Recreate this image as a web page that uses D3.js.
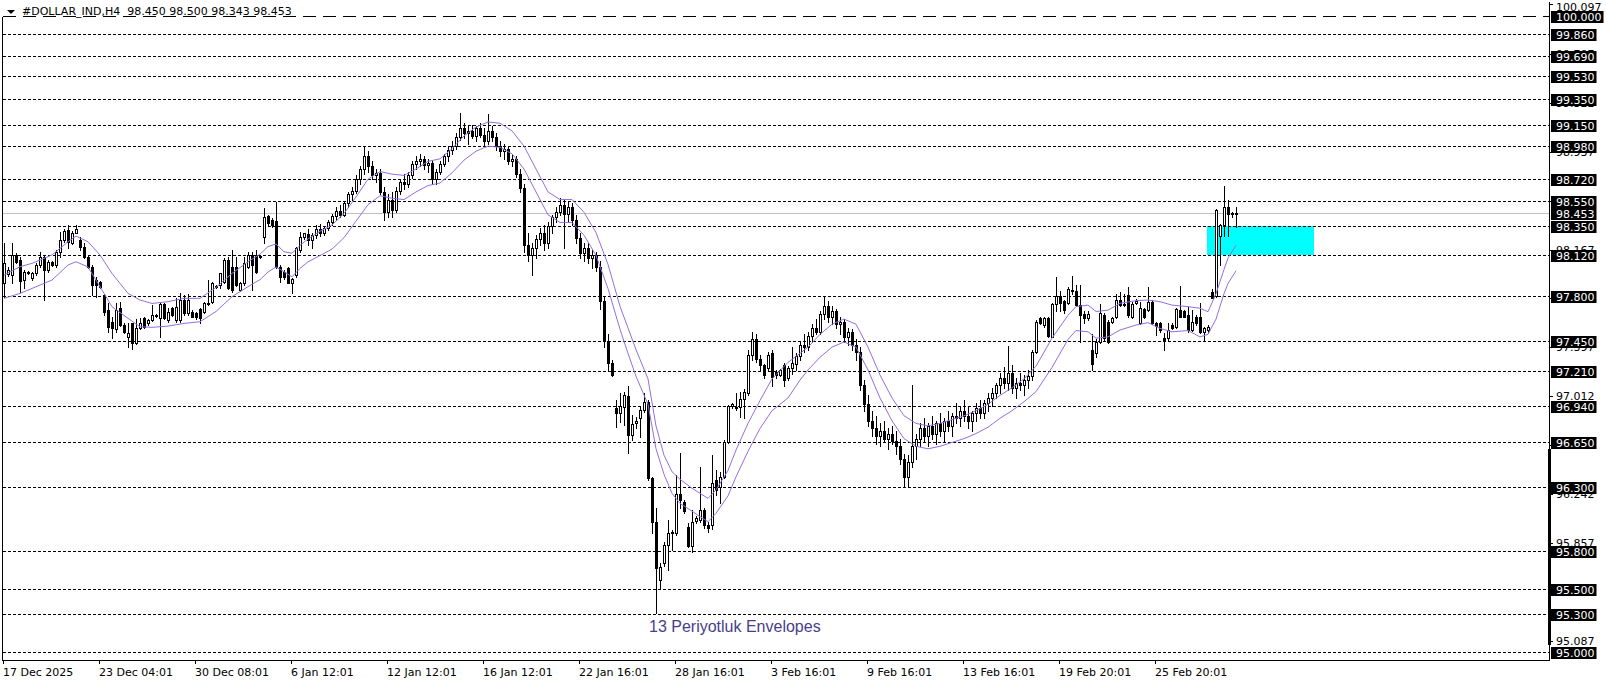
<!DOCTYPE html>
<html><head><meta charset="utf-8">
<script src="https://cdn.jsdelivr.net/npm/d3@7"></script>
<style>html,body{margin:0;padding:0;background:#fff;overflow:hidden}svg{display:block}</style>
</head><body><svg id="c" width="1606" height="684" font-family="DejaVu Sans, sans-serif"></svg>
<script>
// ---------- DATA ----------
const symbolName = "#DOLLAR_IND,H4";
const headerValues = ["98.450","98.500","98.343","98.453"];

const open = [
97.900,97.974,97.966,98.124,98.084,97.927,97.985,97.940,97.979,98.045,
98.110,98.006,98.071,98.045,98.150,98.241,98.320,98.220,98.299,98.241,
98.189,98.105,98.032,97.927,97.914,97.809,97.691,97.599,97.539,97.704,
97.573,97.481,97.586,97.434,97.552,97.626,97.586,97.612,97.647,97.626,
97.738,97.612,97.704,97.612,97.612,97.770,97.665,97.678,97.665,97.696,
97.678,97.738,97.757,97.875,97.888,97.914,98.084,98.032,98.032,97.848,
97.900,98.032,98.124,98.124,98.110,98.262,98.430,98.399,98.394,98.032,
97.992,98.019,97.906,97.966,98.163,98.262,98.29,98.24,98.28,98.33,
98.30,98.34,98.38,98.43,98.47,98.44,98.53,98.60,98.63,98.72,
98.80,98.90,98.82,98.75,98.77,98.62,98.46,98.56,98.48,98.63,
98.70,98.68,98.75,98.84,98.86,98.88,98.83,98.85,98.72,98.78,
98.84,98.90,98.95,98.98,99.05,99.12,99.08,99.10,99.06,99.12,
99.07,99.02,99.10,99.05,98.98,98.94,98.96,98.86,98.88,98.76,
98.65,98.20,98.12,98.18,98.25,98.30,98.22,98.35,98.42,98.46,
98.52,98.45,98.50,98.40,98.26,98.14,98.18,98.10,98.12,98.03,
97.76,97.45,97.277,96.918,96.884,96.93,97.015,96.71,96.80,96.84,
96.905,96.97,96.368,96.027,95.57,95.70,95.844,95.935,95.935,96.245,
96.185,95.988,95.836,96.03,96.04,96.119,96.0,96.00,96.355,96.30,
96.376,96.656,96.937,96.92,96.93,96.989,97.036,97.34,97.46,97.31,
97.26,97.233,97.35,97.207,97.18,97.259,97.154,97.233,97.27,97.33,
97.42,97.40,97.49,97.55,97.52,97.66,97.72,97.64,97.68,97.58,
97.60,97.48,97.52,97.42,97.36,97.10,96.95,96.82,96.76,96.70,
96.74,96.68,96.72,96.66,96.62,96.52,96.38,96.50,96.62,96.68,
96.76,96.70,96.78,96.72,96.80,96.74,96.82,96.78,96.86,96.84,
96.90,96.86,96.82,96.88,96.92,96.88,96.96,97.00,97.04,97.10,
97.16,97.12,97.20,97.08,97.12,97.10,97.14,97.17,97.36,97.63,
97.57,97.63,97.48,97.74,97.80,97.76,97.75,97.85,97.84,97.73,
97.66,97.63,97.38,97.35,97.44,97.65,97.60,97.60,97.64,97.77,
97.73,97.81,97.64,97.75,97.59,97.70,97.69,97.757,97.587,97.587,
97.469,97.469,97.573,97.56,97.69,97.68,97.652,97.534,97.64,97.64,
97.52,97.534,97.835,97.80,98.27,98.36,98.50,98.45,98.450];

const high = [
98.215,98.032,98.220,98.137,98.110,98.006,97.995,97.992,98.058,98.150,
98.124,98.084,98.079,98.163,98.307,98.325,98.359,98.315,98.359,98.262,
98.215,98.116,98.045,97.953,97.920,97.817,97.749,97.639,97.743,97.757,
97.586,97.586,97.591,97.618,97.626,97.639,97.623,97.730,97.660,97.743,
97.743,97.704,97.717,97.783,97.822,97.809,97.814,97.691,97.675,97.704,
97.757,97.927,97.914,97.888,97.985,98.097,98.105,98.163,98.110,97.911,
98.105,98.150,98.150,98.163,98.124,98.490,98.438,98.412,98.543,98.045,
98.006,98.032,97.940,98.189,98.307,98.300,98.33,98.30,98.36,98.37,
98.35,98.40,98.45,98.50,98.52,98.55,98.62,98.66,98.75,98.82,
98.98,98.94,98.86,98.80,98.80,98.66,98.60,98.62,98.66,98.72,
98.76,98.78,98.86,98.90,98.92,98.90,98.88,98.87,98.80,98.86,
98.92,98.98,99.02,99.08,99.24,99.16,99.14,99.15,99.14,99.16,
99.12,99.23,99.14,99.08,99.02,99.00,98.98,98.92,98.90,98.80,
98.68,98.30,98.22,98.28,98.34,98.36,98.38,98.44,98.50,98.57,
98.56,98.54,98.53,98.44,98.30,98.22,98.22,98.16,98.15,98.08,
97.80,97.50,97.30,96.98,97.036,97.05,97.094,96.866,96.853,96.93,
97.036,96.98,96.38,96.132,95.70,95.87,96.04,95.96,96.394,96.565,
96.198,96.014,96.119,96.07,96.46,96.132,96.027,96.55,96.433,96.42,
96.67,96.945,96.96,97.036,97.05,97.068,97.377,97.52,97.50,97.34,
97.27,97.36,97.38,97.22,97.23,97.272,97.25,97.40,97.35,97.45,
97.50,97.52,97.58,97.62,97.68,97.80,97.76,97.72,97.70,97.64,
97.62,97.55,97.54,97.46,97.40,97.14,97.02,96.90,96.86,96.80,
96.82,96.76,96.78,96.74,96.68,96.56,96.55,97.10,96.72,96.80,
96.84,96.80,96.86,96.82,96.88,96.84,96.90,96.88,96.96,96.94,
96.98,96.94,96.90,96.96,96.98,96.98,97.04,97.08,97.12,97.20,
97.24,97.41,97.26,97.16,97.20,97.18,97.22,97.38,97.61,97.64,
97.64,97.64,97.75,97.95,97.84,97.77,97.87,97.96,97.89,97.89,
97.68,97.68,97.50,97.46,97.74,97.665,97.61,97.64,97.82,97.836,
97.82,97.875,97.757,97.775,97.757,97.705,97.875,97.77,97.60,97.60,
97.508,97.587,97.587,97.705,97.88,97.69,97.718,97.69,97.652,97.744,
97.56,97.573,97.86,98.485,98.37,98.67,98.56,98.46,98.500];

const low = [
97.796,97.958,97.900,98.058,97.835,97.861,97.974,97.927,97.966,98.032,
97.770,97.992,98.037,98.032,98.110,98.228,98.176,98.210,98.294,98.163,
98.097,98.019,97.809,97.796,97.861,97.652,97.521,97.468,97.521,97.565,
97.507,97.403,97.382,97.424,97.544,97.547,97.576,97.607,97.633,97.481,
97.618,97.599,97.644,97.599,97.599,97.652,97.652,97.633,97.623,97.586,
97.670,97.730,97.743,97.864,97.861,97.900,97.854,97.835,97.880,97.838,
97.890,98.019,97.848,97.985,98.097,98.220,98.359,98.346,98.019,97.914,
97.937,97.900,97.822,97.953,98.150,98.250,98.20,98.18,98.26,98.27,
98.28,98.32,98.36,98.40,98.42,98.43,98.50,98.56,98.61,98.68,
98.76,98.78,98.72,98.70,98.60,98.40,98.42,98.42,98.46,98.60,
98.64,98.66,98.73,98.80,98.82,98.80,98.78,98.68,98.68,98.76,
98.82,98.86,98.92,98.96,99.03,99.04,99.00,99.04,99.02,99.05,
98.98,99.00,99.02,98.95,98.90,98.88,98.84,98.82,98.74,98.62,
98.15,98.08,97.97,98.10,98.20,98.16,98.18,98.30,98.38,98.44,
98.18,98.38,98.36,98.22,98.10,98.08,98.06,98.02,98.00,97.70,
97.40,97.22,97.17,96.77,96.813,96.787,96.564,96.67,96.76,96.69,
96.89,96.355,95.935,95.306,95.50,95.68,95.65,95.804,95.92,96.132,
96.093,95.83,95.791,96.014,96.027,95.975,95.948,95.97,96.237,96.17,
96.368,96.643,96.92,96.905,96.853,96.84,97.023,97.30,97.28,97.22,
97.16,97.22,97.09,97.16,97.17,97.09,97.14,97.19,97.22,97.30,
97.36,97.38,97.44,97.50,97.50,97.62,97.60,97.58,97.55,97.50,
97.44,97.42,97.38,97.30,97.06,96.90,96.78,96.70,96.64,96.62,
96.66,96.60,96.64,96.56,96.48,96.30,96.30,96.46,96.52,96.62,
96.66,96.62,96.68,96.64,96.70,96.66,96.74,96.70,96.80,96.78,
96.82,96.76,96.74,96.82,96.84,96.84,96.90,96.94,97.00,97.04,
97.08,97.06,97.04,97.00,97.06,97.02,97.08,97.14,97.35,97.58,
97.56,97.48,97.48,97.68,97.68,97.67,97.74,97.82,97.72,97.44,
97.59,97.61,97.22,97.32,97.43,97.455,97.43,97.59,97.63,97.72,
97.72,97.64,97.626,97.74,97.58,97.626,97.68,97.58,97.495,97.52,
97.377,97.456,97.542,97.547,97.634,97.634,97.52,97.529,97.573,97.513,
97.456,97.52,97.783,97.79,98.045,98.27,98.27,98.42,98.343];

const close = [
98.058,98.006,98.124,98.071,97.919,97.992,97.987,97.979,98.045,98.110,
98.006,98.071,98.045,98.150,98.241,98.315,98.228,98.299,98.325,98.189,
98.110,98.032,97.888,97.888,97.869,97.678,97.560,97.547,97.691,97.573,
97.521,97.507,97.434,97.552,97.586,97.560,97.612,97.652,97.650,97.738,
97.626,97.678,97.652,97.717,97.770,97.665,97.770,97.639,97.633,97.626,
97.743,97.749,97.900,97.878,97.979,98.084,97.861,97.848,97.888,97.900,
98.058,98.124,98.045,97.992,98.113,98.420,98.373,98.359,98.032,97.953,
97.948,97.906,97.932,98.176,98.268,98.294,98.24,98.28,98.33,98.30,
98.34,98.38,98.43,98.47,98.44,98.53,98.60,98.63,98.72,98.80,
98.90,98.82,98.75,98.77,98.62,98.46,98.56,98.48,98.63,98.70,
98.68,98.75,98.84,98.86,98.88,98.83,98.85,98.72,98.78,98.84,
98.90,98.95,98.98,99.05,99.12,99.08,99.10,99.06,99.12,99.07,
99.02,99.10,99.05,98.98,98.94,98.96,98.86,98.88,98.76,98.65,
98.20,98.12,98.18,98.25,98.30,98.22,98.35,98.42,98.46,98.52,
98.45,98.50,98.40,98.26,98.14,98.18,98.10,98.12,98.03,97.76,
97.45,97.272,97.18,96.879,96.937,97.023,96.71,96.795,96.82,96.905,
96.97,96.368,96.027,95.66,95.67,95.84,95.935,95.945,96.245,96.198,
96.114,95.836,96.027,96.053,96.119,96.0,95.975,96.33,96.276,96.376,
96.656,96.937,96.95,96.93,96.989,97.05,97.338,97.46,97.31,97.26,
97.18,97.338,97.167,97.18,97.22,97.141,97.233,97.272,97.33,97.42,
97.40,97.49,97.55,97.52,97.66,97.72,97.64,97.68,97.58,97.60,
97.48,97.52,97.42,97.36,97.10,96.95,96.82,96.76,96.70,96.74,
96.68,96.72,96.66,96.62,96.52,96.38,96.50,96.62,96.68,96.76,
96.70,96.78,96.72,96.80,96.74,96.82,96.78,96.86,96.84,96.90,
96.86,96.82,96.88,96.92,96.88,96.96,97.00,97.04,97.10,97.16,
97.12,97.20,97.08,97.12,97.10,97.14,97.17,97.36,97.60,97.59,
97.63,97.49,97.74,97.80,97.75,97.69,97.86,97.84,97.73,97.65,
97.63,97.66,97.27,97.44,97.665,97.47,97.44,97.63,97.77,97.73,
97.74,97.65,97.74,97.765,97.705,97.634,97.757,97.587,97.566,97.534,
97.456,97.534,97.547,97.697,97.64,97.64,97.534,97.60,97.587,97.52,
97.547,97.56,97.788,98.48,98.36,98.50,98.45,98.452,98.453];

// Envelopes (13 period) read at sample bars
const envIdx = [0,4,7,12,16,18,21,24,27,31,34,37,41,45,49,53,57,61,64,66,68,70,72,74,76,79,82,85,88,91,94,97,100,103,106,109,112,115,118,121,124,127,130,133,136,139,142,145,148,151,154,156,158,161,163,165,167,169,172,174,176,178,181,183,186,189,192,196,199,201,204,207,210,213,216,219,222,225,228,231,234,237,240,243,246,249,252,255,258,262,266,268,271,273,276,279,283,286,289,292,296,299,301,303,305,306,308];
const envUpper = [97.966,98.032,98.058,98.124,98.228,98.273,98.228,98.124,97.979,97.822,97.770,97.743,97.757,97.783,97.783,97.869,97.979,98.071,98.13,98.19,98.21,98.15,98.137,98.20,98.25,98.31,98.36,98.45,98.58,98.72,98.78,98.76,98.75,98.80,98.86,98.88,98.96,99.06,99.13,99.17,99.16,99.10,98.98,98.80,98.62,98.56,98.56,98.46,98.30,98.05,97.72,97.55,97.38,97.15,96.78,96.55,96.42,96.36,96.29,96.25,96.21,96.277,96.43,96.59,96.80,96.98,97.15,97.28,97.35,97.40,97.50,97.58,97.62,97.58,97.40,97.18,97.00,96.86,96.80,96.78,96.80,96.83,96.86,96.90,96.95,97.02,97.08,97.15,97.25,97.47,97.65,97.718,97.73,97.68,97.69,97.744,97.765,97.77,97.757,97.73,97.718,97.705,97.678,97.82,98.01,98.10,98.20];
const envLower = [97.783,97.822,97.861,97.927,98.045,98.071,98.030,97.875,97.717,97.626,97.560,97.555,97.565,97.586,97.599,97.680,97.796,97.875,97.93,97.99,98.03,97.992,97.953,98.019,98.07,98.12,98.17,98.26,98.39,98.52,98.59,98.57,98.56,98.62,98.67,98.69,98.77,98.87,98.94,98.98,98.97,98.92,98.80,98.62,98.44,98.38,98.38,98.28,98.12,97.86,97.54,97.35,97.17,96.95,96.60,96.40,96.25,96.17,96.11,96.067,96.027,96.093,96.23,96.38,96.58,96.76,96.90,97.00,97.14,97.22,97.32,97.40,97.44,97.40,97.22,97.00,96.82,96.68,96.62,96.60,96.62,96.65,96.68,96.72,96.77,96.84,96.90,96.97,97.05,97.24,97.46,97.53,97.52,97.47,97.48,97.534,97.573,97.592,97.547,97.52,97.53,97.48,97.50,97.62,97.82,97.90,98.00];

// Horizontal level lines with their labels
const levels = [100.000,99.860,99.690,99.530,99.350,99.150,98.980,98.720,98.550,98.350,98.120,97.800,97.450,97.210,96.940,96.650,96.300,95.800,95.500,95.300,95.000];
const majorLevel = 100.000;
const bidPrice = 98.453;
// Price scale ticks
const scaleTicks = [100.097,99.707,99.322,98.937,98.552,98.167,97.782,97.397,97.012,96.627,96.242,95.857,95.472,95.087];
// Time axis
const timeIdx = [0,24,48,72,96,120,144,168,192,216,240,264,288];
const timeLabels = ["17 Dec 2025","23 Dec 04:01","30 Dec 08:01","6 Jan 12:01","12 Jan 12:01","16 Jan 12:01","22 Jan 16:01","28 Jan 16:01","3 Feb 16:01","9 Feb 16:01","13 Feb 16:01","19 Feb 20:01","25 Feb 20:01"];
// Zone rectangle (bar index span, price span)
const zoneIdx = [300.8, 327.5];
const zonePrice = [98.350, 98.120];
const noteText = "13 Periyotluk Envelopes";

// ---------- DRAW ----------
const svg = d3.select('#c');
const x = d3.scaleLinear().domain([0, 386]).range([4, 1548]);
const y = d3.scaleLinear().domain([95, 100]).range([652.3, 16.4]);
const py = p => Math.round(y(p)) + 0.5;
const plotL = 3, plotR = 1549, plotB = 660;

svg.append('rect').attr('width',1606).attr('height',684).attr('fill','#fff');
svg.append('defs').append('clipPath').attr('id','clip').append('rect')
  .attr('x',plotL).attr('y',0).attr('width',plotR-plotL).attr('height',plotB);
const plot = svg.append('g').attr('clip-path','url(#clip)');

// zone
plot.append('rect')
  .attr('x', Math.round(x(zoneIdx[0]))).attr('width', Math.round(x(zoneIdx[1]) - x(zoneIdx[0])))
  .attr('y', Math.round(y(zonePrice[0]))).attr('height', Math.round(y(zonePrice[1]) - y(zonePrice[0])))
  .attr('fill', '#00ffff');

// level lines
plot.selectAll('line.lvl').data(levels).join('line').attr('class','lvl')
  .attr('x1', plotL).attr('x2', plotR).attr('y1', d => py(d)).attr('y2', d => py(d))
  .attr('stroke', '#000').attr('stroke-width', 1).attr('shape-rendering','crispEdges')
  .attr('stroke-dasharray', d => d === majorLevel ? '13,7' : '3,2');

// bid line
plot.append('line').attr('x1', plotL).attr('x2', plotR).attr('y1', py(bidPrice)).attr('y2', py(bidPrice))
  .attr('stroke', '#c0c0c0').attr('shape-rendering','crispEdges');

// candles
const idx = d3.range(close.length);
const cg = plot.append('g').attr('shape-rendering','crispEdges');
const xc = i => Math.round(x(i));
cg.selectAll('line.wick').data(idx).join('line').attr('class','wick')
  .attr('x1', i => xc(i) + 0.5).attr('x2', i => xc(i) + 0.5)
  .attr('y1', i => Math.round(y(high[i]))).attr('y2', i => Math.round(y(low[i])) + 1)
  .attr('stroke', '#000');
const bull = idx.filter(i => close[i] >= open[i]);
const bear = idx.filter(i => close[i] < open[i]);
cg.selectAll('rect.bull').data(bull).join('rect').attr('class','bull')
  .attr('x', i => xc(i) - 0.5).attr('width', 2)
  .attr('y', i => Math.round(y(close[i])) + 0.5)
  .attr('height', i => Math.max(0, Math.round(y(open[i])) - Math.round(y(close[i]))))
  .attr('fill', '#fff').attr('stroke', '#000');
cg.selectAll('rect.bear').data(bear).join('rect').attr('class','bear')
  .attr('x', i => xc(i) - 1).attr('width', 3)
  .attr('y', i => Math.round(y(open[i])))
  .attr('height', i => Math.max(1, Math.round(y(close[i])) - Math.round(y(open[i])) + 1))
  .attr('fill', '#000');

// envelopes
const envLine = arr => d3.line().x((d, k) => x(envIdx[k])).y(d => y(d))(arr);
plot.append('path').attr('d', envLine(envUpper)).attr('fill','none').attr('stroke','#9370db').attr('stroke-width',1);
plot.append('path').attr('d', envLine(envLower)).attr('fill','none').attr('stroke','#9370db').attr('stroke-width',1);

// frame
const fr = svg.append('g').attr('stroke','#000').attr('shape-rendering','crispEdges');
fr.append('line').attr('x1',2.5).attr('x2',2.5).attr('y1',17).attr('y2',plotB+1);
fr.append('line').attr('x1',2).attr('x2',plotR+1).attr('y1',plotB+0.5).attr('y2',plotB+0.5);
fr.append('line').attr('x1',plotR+0.5).attr('x2',plotR+0.5).attr('y1',2).attr('y2',plotB+1);
svg.append('rect').attr('x',1548).attr('y',449).attr('width',3).attr('height',196).attr('fill','#000');

// price scale labels
const ax = svg.append('g').attr('font-size', 11);
ax.selectAll('line.tk').data(scaleTicks).join('line').attr('class','tk')
  .attr('x1', plotR).attr('x2', plotR + 4).attr('y1', d => py(d)).attr('y2', d => py(d))
  .attr('stroke','#000').attr('shape-rendering','crispEdges');
ax.selectAll('text.tk').data(scaleTicks).join('text').attr('class','tk')
  .attr('x', 1556).attr('y', d => Math.max(y(d) + 4, 11)).attr('fill','#000').text(d => d.toFixed(3));

// black labels
const lab = svg.append('g').attr('font-size', 11);
const allLab = levels.concat([bidPrice]);
allLab.forEach(p => {
  const t = lab.append('text').attr('x', 1556).attr('y', Math.round(y(p)) + 5).attr('fill','#fff').text(p.toFixed(3));
  const w = t.node().getComputedTextLength();
  lab.insert('rect', 'text').attr('x', 1551).attr('y', Math.round(y(p)) - 5).attr('width', w + 7).attr('height', 12).attr('fill','#000');
});

// time axis
const tg = svg.append('g').attr('font-size', 11);
tg.selectAll('line').data(timeIdx).join('line')
  .attr('x1', i => xc(i) - 0.5).attr('x2', i => xc(i) - 0.5).attr('y1', plotB).attr('y2', plotB + 4)
  .attr('stroke','#000').attr('shape-rendering','crispEdges');
tg.selectAll('text').data(timeIdx).join('text')
  .attr('x', i => xc(i) - 1).attr('y', 676).attr('fill','#000').text((d, k) => timeLabels[k]);

// title
svg.append('path').attr('d','M7,10 L15,10 L11,14 Z').attr('fill','#000');
svg.append('text').attr('x', 22).attr('y', 15).attr('font-size', 11).attr('fill','#000')
  .style('white-space','pre').text(symbolName + '  ' + headerValues.join(' '));

// note
svg.append('text').attr('x', 649).attr('y', 632).attr('font-size', 16)
  .style('font-family','"Liberation Sans", Arial, sans-serif').attr('fill','#483d8b').text(noteText);
</script>
</body></html>
